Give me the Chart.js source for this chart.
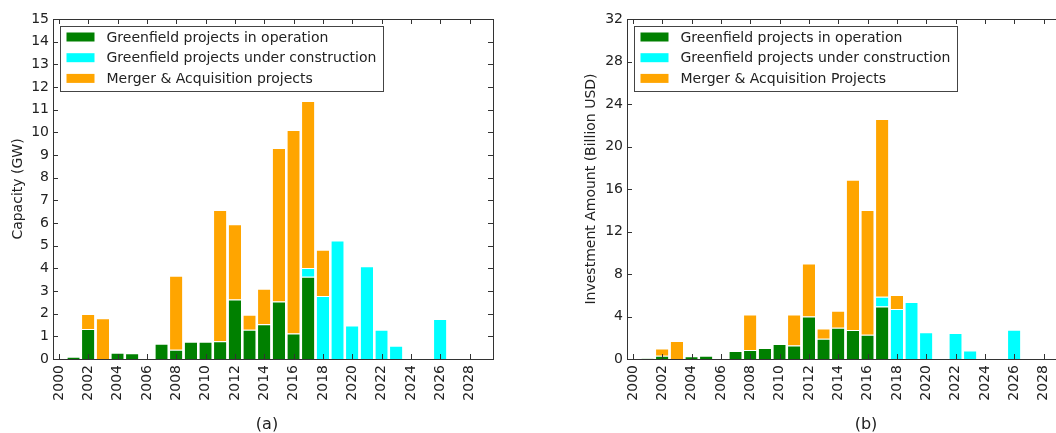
<!DOCTYPE html>
<html>
<head>
<meta charset="utf-8">
<script src="https://cdn.jsdelivr.net/npm/chart.js@4.4.1/dist/chart.umd.min.js"></script>
<style>
  html, body { margin: 0; padding: 0; background: #fff; }
  body { width: 1056px; height: 433px; position: relative; overflow: hidden; font-family: "DejaVu Sans", sans-serif; color: #222; }
  .panel { position: absolute; top: 0; height: 433px; }
  #panelA { left: 0; width: 528px; }
  #panelB { left: 528px; width: 560px; }
  .caption { position: absolute; top: 414px; font-size: 16px; transform: translateX(-50%); color: #222; }
</style>
</head>
<body>
<div class="panel" id="panelA"><canvas id="chartA" width="528" height="433"></canvas></div>
<div class="panel" id="panelB"><canvas id="chartB" width="560" height="433"></canvas></div>
<div class="caption" style="left:267px">(a)</div>
<div class="caption" style="left:866px">(b)</div>
<script>
// Years on the x axis
const years = [];
for (let y = 2000; y <= 2029; y++) years.push(y);
const yearTicks = [2000, 2002, 2004, 2006, 2008, 2010, 2012, 2014, 2016, 2018, 2020, 2022, 2024, 2026, 2028];

// (a) Capacity, GW
const capOperation = {2001: 0.1, 2002: 1.32, 2004: 0.28, 2005: 0.25, 2007: 0.67, 2008: 0.41, 2009: 0.76, 2010: 0.76,
  2011: 0.78, 2012: 2.62, 2013: 1.29, 2014: 1.53, 2015: 2.54, 2016: 1.13, 2017: 3.63};
const capConstruction = {2017: 0.38, 2018: 2.78, 2019: 5.23, 2020: 1.48, 2021: 4.09, 2022: 1.29, 2023: 0.59, 2026: 1.76};
const capMA = {2002: 0.66, 2003: 1.80, 2008: 3.26, 2011: 5.79, 2012: 3.33, 2013: 0.66, 2014: 1.57, 2015: 6.77,
  2016: 8.97, 2017: 7.37, 2018: 2.04};
const capTicks = [0, 1, 2, 3, 4, 5, 6, 7, 8, 9, 10, 11, 12, 13, 14, 15];

// (b) Investment, billion USD
const invOperation = {2001: 0.05, 2002: 0.31, 2004: 0.25, 2005: 0.31, 2007: 0.75, 2008: 0.85, 2009: 1.03, 2010: 1.42,
  2011: 1.28, 2012: 4.01, 2013: 1.91, 2014: 2.95, 2015: 2.73, 2016: 2.29, 2017: 4.95};
const invConstruction = {2017: 0.91, 2018: 4.70, 2019: 5.36, 2020: 2.51, 2022: 2.45, 2023: 0.81, 2026: 2.76};
const invMA = {2002: 0.69, 2003: 1.69, 2008: 3.35, 2011: 2.92, 2012: 4.99, 2013: 0.97, 2014: 1.60, 2015: 14.14,
  2016: 11.73, 2017: 16.73, 2018: 1.33};
const invTicks = [0, 4, 8, 12, 16, 20, 24, 28, 32];

const GREEN = '#008000', CYAN = '#00ffff', ORANGE = '#ffa500';
const FONT = "'DejaVu Sans', sans-serif";

function series(map) { return years.map(y => (y in map ? map[y] : null)); }

// Matplotlib-style frame with inward ticks on all four sides, plus a framed legend inside the plot
const framePlugin = {
  id: 'frame',
  afterDraw(chart, args, opts) {
    const ctx = chart.ctx, a = chart.chartArea;
    const xs = chart.scales.x, ys = chart.scales.y;
    const L = 5;
    ctx.save();
    ctx.strokeStyle = '#333';
    ctx.lineWidth = 1;
    ctx.beginPath();
    xs.ticks.forEach(t => {
      const px = Math.round(xs.getPixelForValue(t.value)) + 0.5;
      ctx.moveTo(px, a.bottom); ctx.lineTo(px, a.bottom - L);
      ctx.moveTo(px, a.top); ctx.lineTo(px, a.top + L);
    });
    ys.ticks.forEach(t => {
      const py = Math.round(ys.getPixelForValue(t.value)) + 0.5;
      ctx.moveTo(a.left, py); ctx.lineTo(a.left + L, py);
      ctx.moveTo(a.right, py); ctx.lineTo(a.right - L, py);
    });
    ctx.stroke();
    ctx.strokeRect(Math.round(a.left) + 0.5, Math.round(a.top) + 0.5, Math.round(a.right - a.left), Math.round(a.bottom - a.top));

    // legend
    ctx.font = '14px ' + FONT;
    const labels = chart.data.datasets.map(d => d.label);
    const maxW = Math.max(...labels.map(s => ctx.measureText(s).width));
    const bx = Math.round(a.left) + 7.5, by = Math.round(a.top) + 7.5;
    const bw = Math.round(46 + maxW + 7), bh = 65;
    ctx.fillStyle = '#fff';
    ctx.fillRect(bx, by, bw, bh);
    ctx.strokeStyle = '#444';
    ctx.strokeRect(bx, by, bw, bh);
    ctx.textBaseline = 'middle';
    chart.data.datasets.forEach((d, i) => {
      const cy = by + 10.5 + i * 20.7;
      ctx.fillStyle = d.backgroundColor;
      ctx.fillRect(bx + 6, cy - 4.5, 28, 9);
      ctx.fillStyle = '#222';
      ctx.fillText(d.label, bx + 46, cy + 1);
    });
    ctx.restore();
  }
};

function makeChart(id, cfg) {
  const datasets = [
    { label: 'Greenfield projects in operation', data: series(cfg.op), backgroundColor: GREEN },
    { label: 'Greenfield projects under construction', data: series(cfg.uc), backgroundColor: CYAN },
    { label: cfg.maLabel, data: series(cfg.ma), backgroundColor: ORANGE }
  ].map(d => Object.assign(d, {
    borderColor: 'rgba(255,255,255,0.75)',
    borderWidth: { top: 1, left: 0, right: 0, bottom: 0 },
    borderSkipped: 'start',
    categoryPercentage: 0.84,
    barPercentage: 1.0
  }));

  return new Chart(document.getElementById(id), {
    type: 'bar',
    data: { labels: years, datasets },
    options: {
      responsive: false,
      animation: false,
      layout: { padding: { top: 19, right: cfg.padRight, left: 0, bottom: 0 } },
      plugins: { legend: { display: false }, tooltip: { enabled: false } },
      scales: {
        x: {
          type: 'linear',
          stacked: true,
          offset: false,
          min: 1999.6,
          max: 2029.6,
          grid: { display: false, drawTicks: false },
          border: { display: false },
          afterBuildTicks(scale) { scale.ticks = yearTicks.map(v => ({ value: v })); },
          afterFit(scale) { scale.height = 74; },
          ticks: {
            autoSkip: false,
            minRotation: 90,
            maxRotation: 90,
            padding: 6,
            color: '#222',
            font: { family: FONT, size: 14 },
            callback: v => String(v)
          }
        },
        y: {
          stacked: true,
          min: 0,
          max: cfg.yMax,
          grid: { display: false, drawTicks: false },
          border: { display: false },
          afterBuildTicks(scale) { scale.ticks = cfg.yTicks.map(v => ({ value: v })); },
          afterFit(scale) { scale.width = cfg.yWidth; },
          ticks: {
            padding: 4,
            color: '#222',
            font: { family: FONT, size: 14 },
            callback: v => String(v)
          },
          title: {
            display: true,
            text: cfg.yTitle,
            color: '#222',
            font: { family: FONT, size: 14 },
            padding: { top: cfg.titlePad, bottom: 0 }
          }
        }
      }
    },
    plugins: [framePlugin]
  });
}

makeChart('chartA', {
  op: capOperation, uc: capConstruction, ma: capMA,
  maLabel: 'Merger & Acquisition projects',
  yMax: 15, yTicks: capTicks, yTitle: 'Capacity (GW)',
  yWidth: 53, padRight: 35, titlePad: 10
});

makeChart('chartB', {
  op: invOperation, uc: invConstruction, ma: invMA,
  maLabel: 'Merger & Acquisition Projects',
  yMax: 32, yTicks: invTicks, yTitle: 'Investment Amount (Billion USD)',
  yWidth: 99, padRight: 21, titlePad: 55
});
</script>
</body>
</html>
